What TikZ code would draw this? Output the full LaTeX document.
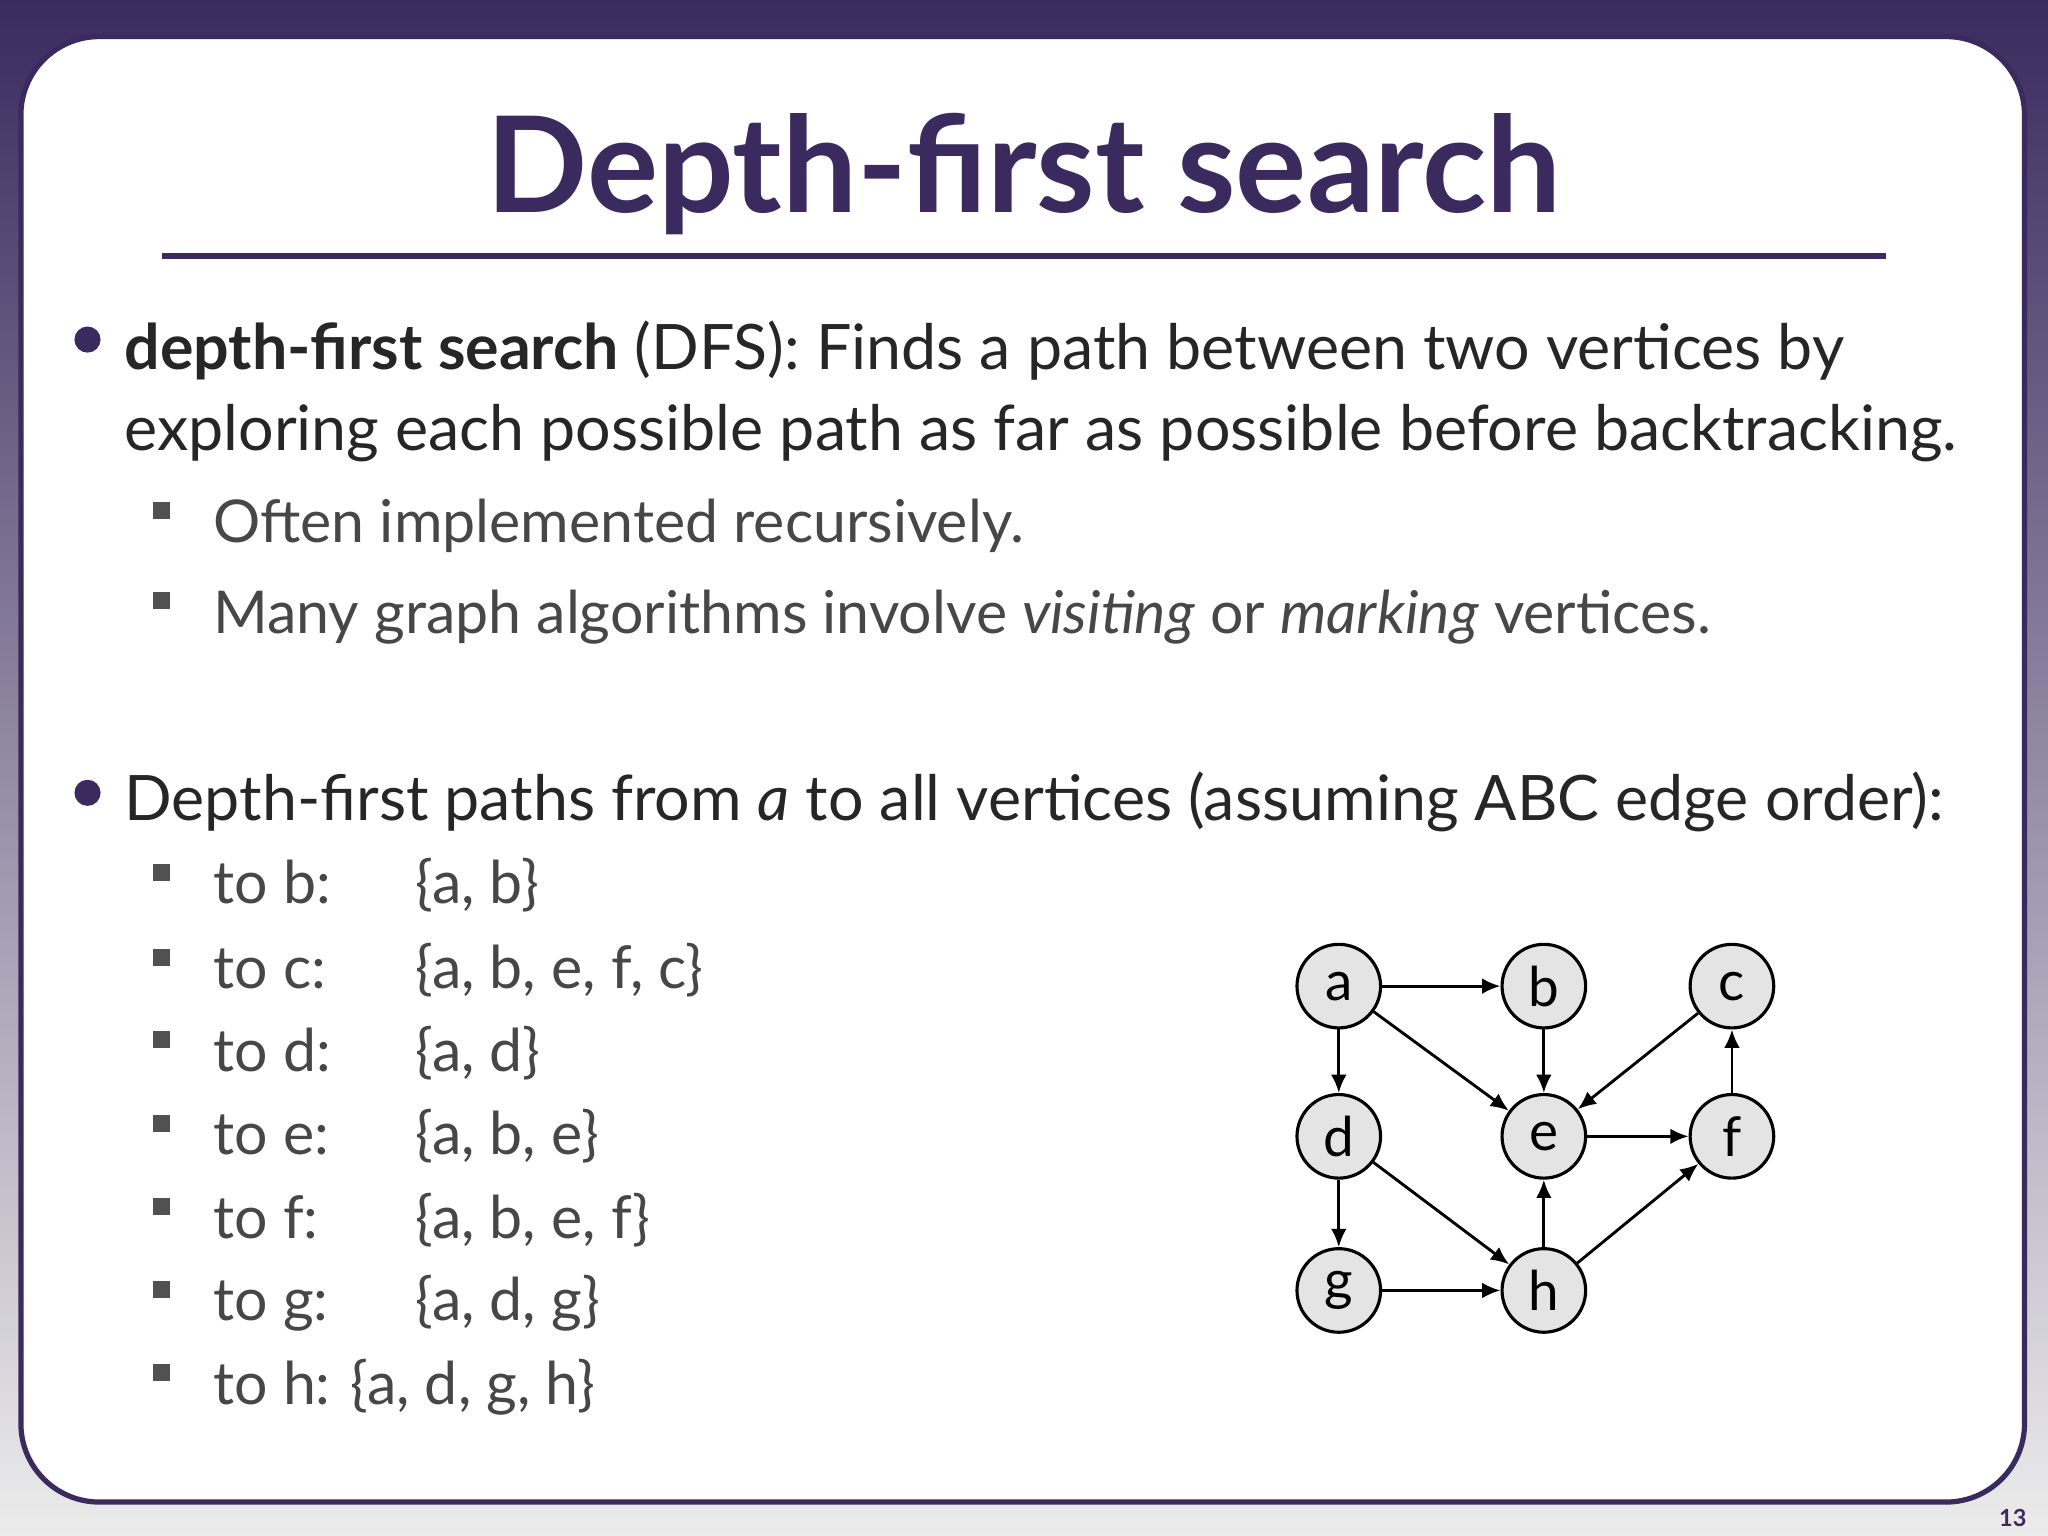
\documentclass[tikz,border=0pt]{standalone}
\usepackage{fontspec}
\setmainfont{Lato}
\usetikzlibrary{arrows.meta}
\definecolor{dpurple}{HTML}{3B2A5E}
\definecolor{txt}{HTML}{262626}
\definecolor{nodefill}{HTML}{E4E4E4}
\tikzset{
  vtx/.style={circle,draw=black,line width=1.2pt,fill=nodefill,minimum size=32pt,inner sep=0pt,font=\fontsize{21}{22}\selectfont},
  edge/.style={-{Latex[length=7pt,width=6pt]},line width=1.1pt},
  body/.style={anchor=base west,inner sep=0pt,text=txt,font=\fontsize{24}{28}\selectfont},
  sub/.style={anchor=base west,inner sep=0pt,text=txt!85,font=\fontsize{22.6}{26}\selectfont},
  bul/.style={circle,fill=dpurple,inner sep=0pt,minimum size=10pt},
  sq/.style={fill=txt!80,inner sep=0pt,minimum size=6.5pt}
}
\begin{document}
\begin{tikzpicture}[x=0.5pt,y=-0.5pt]
\useasboundingbox (0,0) rectangle (1568,1176);
\shade[top color=dpurple,bottom color=gray!15] (0,0) rectangle (1568,1176);
\fill[white,draw=dpurple,line width=2pt,rounded corners=30pt] (16,28) rectangle (1550,1150);
\node[font=\bfseries\fontsize{51}{55}\selectfont,text=dpurple,anchor=base] (title) at (784,163) {Depth-first search};
\draw[dpurple,line width=2pt] (124,196) -- (1444,196);
\node[bul] (b1) at (67,260) {};
\node[body] (l1) at (95,283) {\textbf{depth-first search} (DFS): Finds a path between two vertices by};
\node[body] (l2) at (95,345) {exploring each possible path as far as possible before backtracking.};
\node[sq] (s1) at (124,391) {};
\node[sub] (t1) at (163,415) {Often implemented recursively.};
\node[sq] (s2) at (124,460) {};
\node[sub] (t2) at (163,485) {Many graph algorithms involve \textit{visiting} or \textit{marking} vertices.};
\node[bul] (b2) at (67,607) {};
\node[body] (l3) at (95,628) {Depth-first paths from \textit{a} to all vertices (assuming ABC edge order):};
\foreach \y/\a/\b [count=\i] in {692/to b:/{\{a, b\}},757/to c:/{\{a, b, e, f, c\}},820/to d:/{\{a, d\}},884/to e:/{\{a, b, e\}},948/to f:/{\{a, b, e, f\}},1011/to g:/{\{a, d, g\}}}{
  \node[sq] (q\i) at (124,\y-24) {};
  \node[sub] (p\i) at (163,\y) {\a};
  \node[sub] (r\i) at (318,\y) {\b};
}
\node[sq] (q7) at (124,1051) {};
\node[sub] (p7) at (163,1075) {to h: \{a, d, g, h\}};
\node[vtx] (a) at (1025,755) {a};
\node[vtx] (b) at (1182,755) {b};
\node[vtx] (c) at (1326,755) {c};
\node[vtx] (d) at (1025,870) {d};
\node[vtx] (e) at (1182,870) {e};
\node[vtx] (f) at (1326,870) {f};
\node[vtx] (g) at (1025,988) {g};
\node[vtx] (h) at (1182,988) {h};
\foreach \s/\t in {a/b,a/d,a/e,b/e,c/e,e/f,f/c,d/g,d/h,g/h,h/e,h/f}
  \draw[edge] (\s) -- (\t);
\node[font=\bfseries\fontsize{9}{10}\selectfont,text=dpurple] (pg) at (1541,1162) {13};
\end{tikzpicture}
\end{document}
